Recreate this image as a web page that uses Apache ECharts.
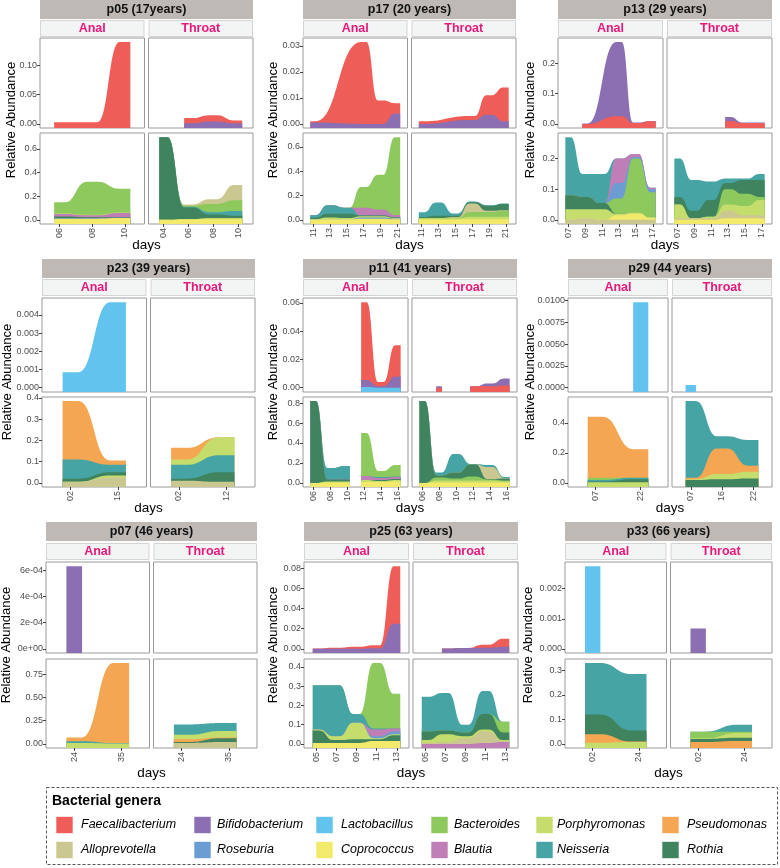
<!DOCTYPE html>
<html><head><meta charset="utf-8">
<script src="https://cdn.jsdelivr.net/npm/echarts@6/dist/echarts.min.js"></script>
<style>html,body{margin:0;padding:0;background:#fff}#c{width:780px;height:868px}</style>
</head><body><div id="c"></div>
<script>
const FONT = '"Liberation Sans", Arial, Helvetica, sans-serif';
const genera = ['Faecalibacterium','Bifidobacterium','Lactobacillus','Bacteroides','Porphyromonas','Pseudomonas','Alloprevotella','Roseburia','Coprococcus','Blautia','Neisseria','Rothia'];
const generaColors = ['#EE5D57','#8C6FB3','#62C3EE','#8DC95D','#C5DD6C','#F5A653','#CBC791','#6C9DD2','#F3EA6B','#BF7FB6','#47A4A4','#3F845F'];

// ---------- p05 ----------
const p05_anal_days = ['06','08','10'];
const p05_throat_days = ['04','06','08','10'];
const p05_top_ticks = ['0.00','0.05','0.10'];
const p05_bot_ticks = ['0.0','0.2','0.4','0.6'];
const p05_anal_top = {days:['06','08','10'], Faecalibacterium:[0.003,0.003,0.14]};
const p05_throat_top = {days:['06','08','10'], Bifidobacterium:[0.001,0.004,0.001], Faecalibacterium:[0.009,0.011,0.005]};
const p05_anal_bot = {days:['06','08','10'], Coprococcus:[0.01,0.01,0.015], Roseburia:[0.004,0.003,0.003], Rothia:[0.015,0.01,0.005], Blautia:[0.02,0.015,0.035], Porphyromonas:[0.005,0.005,0.005], Bacteroides:[0.095,0.28,0.2]};
const p05_throat_bot = {days:['04','06','08','10'], Coprococcus:[0,0.005,0.005,0.005], Porphyromonas:[0,0,0.01,0.01], Rothia:[0.70,0.10,0.03,0.02], Neisseria:[0,0.005,0.02,0.04], Bacteroides:[0,0.01,0.07,0.09], Alloprevotella:[0,0.01,0.04,0.13]};

// ---------- p17 ----------
const p17_anal_days = ['11','13','15','17','19','21'];
const p17_throat_days = ['11','13','15','17','19','21'];
const p17_top_ticks = ['0.00','0.01','0.02','0.03'];
const p17_bot_ticks = ['0.0','0.2','0.4','0.6'];
const p17_anal_top = {days:['11','17','19','21'], Bifidobacterium:[0.0005,0,0,0.004], Faecalibacterium:[0.0005,0.0315,0.009,0.004]};
const p17_throat_top = {days:['11','17','19','21'], Bifidobacterium:[0,0.0015,0.0035,0.001], Faecalibacterium:[0.001,0.0015,0.0075,0.013]};
const p17_anal_bot = {days:['11','13','15','17','19','21'], Coprococcus:[0.003,0.005,0.005,0.01,0.01,0.005], Roseburia:[0,0,0,0.01,0.01,0.005], Porphyromonas:[0.005,0.015,0.01,0.01,0.01,0.005], Rothia:[0.01,0.03,0.035,0.005,0.005,0.005], Neisseria:[0.02,0.07,0.05,0,0,0], Blautia:[0,0,0,0.065,0.05,0.02], Bacteroides:[0,0,0,0.17,0.285,0.64]};
const p17_throat_bot = {days:['11','13','15','17','19','21'], Coprococcus:[0.003,0.003,0.003,0.005,0.005,0.005], Porphyromonas:[0.01,0.01,0.01,0.02,0.02,0.02], Bacteroides:[0,0,0.005,0.04,0.04,0.05], Alloprevotella:[0,0,0.005,0.07,0.01,0.005], Rothia:[0.01,0.02,0.01,0.01,0.04,0.05], Neisseria:[0.04,0.11,0.02,0.005,0.005,0.005]};

// ---------- p13 ----------
const p13_anal_days = ['07','09','11','13','15','17'];
const p13_throat_days = ['07','09','11','13','15','17'];
const p13_top_ticks = ['0.0','0.1','0.2'];
const p13_bot_ticks = ['0.0','0.1','0.2'];
const p13_anal_top = {days:['09','13','15','17'], Faecalibacterium:[0,0.025,0.003,0.009], Bifidobacterium:[0.001,0.245,0.002,0.001]};
const p13_throat_top = {days:['13','15','17'], Faecalibacterium:[0.01,0.003,0.003], Bifidobacterium:[0.013,0.002,0.002]};
const p13_anal_bot = {days:['07','09','11','13','15','17'], Alloprevotella:[0,0.005,0,0,0,0], Coprococcus:[0,0,0,0.015,0.02,0.005], Porphyromonas:[0.035,0.03,0.035,0.005,0.005,0.005], Rothia:[0.045,0.04,0.02,0,0,0], Bacteroides:[0,0,0,0.05,0.175,0.08], Roseburia:[0,0,0,0.05,0.005,0.01], Blautia:[0,0,0,0.08,0.01,0.005], Neisseria:[0.19,0.075,0.095,0,0,0]};
const p13_throat_bot = {days:['07','09','11','13','15','17'], Coprococcus:[0,0,0,0.005,0.005,0.005], Alloprevotella:[0.005,0.005,0.005,0.025,0.01,0.01], Porphyromonas:[0.045,0,0.005,0.02,0.03,0.05], Bacteroides:[0,0,0,0.05,0.04,0.01], Rothia:[0.025,0.025,0.055,0.02,0.045,0.055], Neisseria:[0.125,0.1,0.06,0.015,0.005,0.02]};

// ---------- p23 ----------
const p23_anal_days = ['02','15'];
const p23_throat_days = ['02','12'];
const p23_top_ticks = ['0.000','0.001','0.002','0.003','0.004'];
const p23_bot_ticks = ['0.0','0.1','0.2','0.3','0.4'];
const p23_anal_top = {days:['02','15'], Lactobacillus:[0.00085,0.0047]};
const p23_throat_top = {days:[]};
const p23_anal_bot = {days:['02','15'], Alloprevotella:[0.005,0.025], Porphyromonas:[0,0.01], Rothia:[0.015,0.015], Neisseria:[0.09,0.035], Pseudomonas:[0.275,0.02]};
const p23_throat_bot = {days:['02','12'], Alloprevotella:[0.01,0.005], Rothia:[0.01,0.045], Neisseria:[0.065,0.08], Porphyromonas:[0.025,0.085], Pseudomonas:[0.055,0]};

// ---------- p11 ----------
const p11_anal_days = ['06','08','10','12','14','16'];
const p11_throat_days = ['06','08','10','12','14','16'];
const p11_top_ticks = ['0.00','0.02','0.04','0.06'];
const p11_bot_ticks = ['0.0','0.2','0.4','0.6','0.8'];
const p11_anal_top = {days:['12','14','16'], Lactobacillus:[0.0005,0,0], Bifidobacterium:[0.005,0.001,0.008], Faecalibacterium:[0.055,0.003,0.022]};
const p11_throat_top = {days:['08',null,'12','14','16'], Faecalibacterium:[0,null,0.001,0.001,0.0015], Bifidobacterium:[0.001,null,0,0.002,0.005]};
const p11_anal_bot = {days:['06','08','10',null,'12','14','16'], Coprococcus:[0,0.005,0.005,null,0.01,0.01,0.015], Porphyromonas:[0,0.01,0.01,null,0.02,0.01,0.015], Rothia:[0.82,0.02,0.02,null,0,0.01,0.01], Blautia:[0,0,0,null,0.04,0.02,0.02], Neisseria:[0,0.115,0.135,null,0,0.01,0.005], Bacteroides:[0,0,0,null,0.43,0.06,0.115]};
const p11_throat_bot = {days:['06','08','10','12','14','16'], Coprococcus:[0,0.005,0.005,0.005,0.005,0.005], Porphyromonas:[0,0.02,0.02,0.02,0.02,0.01], Bacteroides:[0,0.03,0.02,0.04,0.01,0.01], Rothia:[0.82,0.02,0.06,0.12,0.005,0.02], Alloprevotella:[0,0,0,0,0.12,0.005], Neisseria:[0,0.03,0.185,0.005,0.02,0.01]};

// ---------- p29 ----------
const p29_anal_days = ['07','22'];
const p29_throat_days = ['07','16','22'];
const p29_top_ticks = ['0.0000','0.0025','0.0050','0.0075','0.0100'];
const p29_bot_ticks = ['0.0','0.2','0.4'];
const p29_anal_top = {days:['22'], Lactobacillus:[0.0098]};
const p29_throat_top = {days:['07'], Lactobacillus:[0.0003]};
const p29_anal_bot = {days:['07','22'], Porphyromonas:[0.005,0.005], Rothia:[0.005,0.02], Neisseria:[0.01,0.01], Bacteroides:[0.015,0], Pseudomonas:[0.405,0.19]};
const p29_throat_bot = {days:['07','16','22'], Rothia:[0.02,0.025,0.03], Porphyromonas:[0.005,0.035,0.045], Pseudomonas:[0.01,0.17,0.04], Neisseria:[0.51,0.08,0.17]};

// ---------- p07 ----------
const p07_anal_days = ['24','35'];
const p07_throat_days = ['24','35'];
const p07_top_ticks = ['0e+00','2e-04','4e-04','6e-04'];
const p07_bot_ticks = ['0.00','0.25','0.50','0.75'];
const p07_anal_top = {days:['24'], Bifidobacterium:[0.00063]};
const p07_throat_top = {days:[]};
const p07_anal_bot = {days:['24','35'], Porphyromonas:[0.01,0.005], Neisseria:[0.02,0.005], Pseudomonas:[0.04,0.86]};
const p07_throat_bot = {days:['24','35'], Alloprevotella:[0.01,0.02], Rothia:[0.01,0.04], Pseudomonas:[0.03,0.01], Porphyromonas:[0.05,0.07], Neisseria:[0.11,0.085]};

// ---------- p25 ----------
const p25_anal_days = ['05','07','09','11','13'];
const p25_throat_days = ['05','07','09','11','13'];
const p25_top_ticks = ['0.00','0.02','0.04','0.06','0.08'];
const p25_bot_ticks = ['0.0','0.1','0.2','0.3','0.4'];
const p25_anal_top = {days:['05','07','09','11','13'], Bifidobacterium:[0,0,0,0.0005,0.025], Faecalibacterium:[0.0003,0.001,0.002,0.003,0.057]};
const p25_throat_top = {days:['07','09','11','13'], Bifidobacterium:[0.0003,0.0008,0.001,0.002], Faecalibacterium:[0,0,0.003,0.008]};
const p25_anal_bot = {days:['05','07','09','11','13'], Coprococcus:[0.005,0.005,0.005,0.015,0.015], Rothia:[0.065,0.015,0.02,0.01,0.03], Porphyromonas:[0.005,0.02,0.085,0.005,0.005], Roseburia:[0,0,0,0.01,0.015], Blautia:[0,0,0,0.035,0.015], Neisseria:[0.23,0.265,0.045,0.005,0], Bacteroides:[0,0,0,0.34,0.18]};
const p25_throat_bot = {days:['05','07','09','11','13'], Blautia:[0,0,0,0.005,0.01], Alloprevotella:[0.005,0.01,0.03,0.06,0.005], Porphyromonas:[0.015,0.04,0.01,0.01,0.005], Rothia:[0.045,0.02,0.02,0.08,0.04], Bacteroides:[0,0,0,0,0.055], Neisseria:[0.18,0.195,0.04,0.12,0]};

// ---------- p33 ----------
const p33_anal_days = ['02','24'];
const p33_throat_days = ['02','24'];
const p33_top_ticks = ['0.000','0.001','0.002'];
const p33_bot_ticks = ['0.0','0.1','0.2','0.3'];
const p33_anal_top = {days:['02'], Lactobacillus:[0.00275]};
const p33_throat_top = {days:['02'], Bifidobacterium:[0.00068]};
const p33_anal_bot = {days:['02','24'], Porphyromonas:[0.005,0.008], Pseudomonas:[0.035,0.002], Rothia:[0.08,0.045], Neisseria:[0.21,0.23]};
const p33_throat_bot = {days:['02','24'], Pseudomonas:[0.008,0.012], Rothia:[0.012,0.013], Porphyromonas:[0.003,0.02], Bacteroides:[0.027,0.005], Neisseria:[0,0.028]};

// ---------- layout (positions only) ----------
const rows = [
  {title:0, strip:20, top:[38,128], bot:[133,224], days:245, ylabY:120},
  {title:259, strip:279, top:[298,392], bot:[397,487], days:508, ylabY:382},
  {title:522, strip:543, top:[562,653], bot:[659,748], days:773, ylabY:645}
];
const panels = [
  {title:'p05 (17years)', cats:[p05_anal_days,p05_throat_days], subs:[p05_anal_top,p05_throat_top,p05_anal_bot,p05_throat_bot], ticks:[p05_top_ticks,p05_bot_ticks], L:40, R:253, row:0, ylx:11},
  {title:'p17 (20 years)', cats:[p17_anal_days,p17_throat_days], subs:[p17_anal_top,p17_throat_top,p17_anal_bot,p17_throat_bot], ticks:[p17_top_ticks,p17_bot_ticks], L:303, R:516, row:0, ylx:273},
  {title:'p13 (29 years)', cats:[p13_anal_days,p13_throat_days], subs:[p13_anal_top,p13_throat_top,p13_anal_bot,p13_throat_bot], ticks:[p13_top_ticks,p13_bot_ticks], L:558, R:772, row:0, ylx:530},
  {title:'p23 (39 years)', cats:[p23_anal_days,p23_throat_days], subs:[p23_anal_top,p23_throat_top,p23_anal_bot,p23_throat_bot], ticks:[p23_top_ticks,p23_bot_ticks], L:42, R:255, row:1, ylx:7},
  {title:'p11 (41 years)', cats:[p11_anal_days,p11_throat_days], subs:[p11_anal_top,p11_throat_top,p11_anal_bot,p11_throat_bot], ticks:[p11_top_ticks,p11_bot_ticks], L:303, R:517, row:1, ylx:273},
  {title:'p29 (44 years)', cats:[p29_anal_days,p29_throat_days], subs:[p29_anal_top,p29_throat_top,p29_anal_bot,p29_throat_bot], ticks:[p29_top_ticks,p29_bot_ticks], L:568, R:772, row:1, ylx:530},
  {title:'p07 (46 years)', cats:[p07_anal_days,p07_throat_days], subs:[p07_anal_top,p07_throat_top,p07_anal_bot,p07_throat_bot], ticks:[p07_top_ticks,p07_bot_ticks], L:46, R:257, row:2, ylx:6},
  {title:'p25 (63 years)', cats:[p25_anal_days,p25_throat_days], subs:[p25_anal_top,p25_throat_top,p25_anal_bot,p25_throat_bot], ticks:[p25_top_ticks,p25_bot_ticks], L:304, R:518, row:2, ylx:273},
  {title:'p33 (66 years)', cats:[p33_anal_days,p33_throat_days], subs:[p33_anal_top,p33_throat_top,p33_anal_bot,p33_throat_bot], ticks:[p33_top_ticks,p33_bot_ticks], L:565, R:772, row:2, ylx:528}
];

const HW = 1/6;
const colorOf = g => generaColors[genera.indexOf(g)];
function subTotal(sub){
  const keys = Object.keys(sub).filter(k=>k!=='days');
  let m = 0;
  sub.days.forEach((d,i)=>{ if(d===null) return; let s=0; keys.forEach(k=>{ s += sub[k][i]||0; }); m=Math.max(m,s); });
  return m;
}

const grids=[], xAxes=[], yAxes=[], series=[], graphics=[];
const axisLblStyle = {fontSize:9, color:'#4d4d4d', fontFamily:FONT};

panels.forEach(p=>{
  const r = rows[p.row];
  const w = (p.R - p.L - 4)/2;
  const Mtop = Math.max(subTotal(p.subs[0]), subTotal(p.subs[1]));
  const Mbot = Math.max(subTotal(p.subs[2]), subTotal(p.subs[3]));
  for(let j=0;j<4;j++){
    const site = j%2, isBot = j>=2;
    const left = p.L + site*(w+4);
    const yr = isBot ? r.bot : r.top;
    const gi = grids.length;
    grids.push({left:left, top:yr[0], width:w, height:yr[1]-yr[0], show:true, borderColor:'#9a9a9a', borderWidth:1, backgroundColor:'#fff', containLabel:false});
    const cats = p.cats[site];
    const xIdx = cats.map((c,i)=>i);
    xAxes.push({type:'value', gridIndex:gi, min:-0.6, max:cats.length-1+0.6, position:'bottom',
      axisLine:{show:false, onZero:false}, splitLine:{show:false},
      axisTick:{show:isBot, customValues:xIdx, length:3, lineStyle:{color:'#444'}},
      axisLabel:Object.assign({show:isBot, customValues:xIdx, rotate:90, margin:4, formatter:v=>cats[Math.round(v)]||''}, axisLblStyle)});
    const M = isBot ? Mbot : Mtop;
    const tl = p.ticks[isBot?1:0];
    const tv = tl.map(s=>parseFloat(s));
    yAxes.push({type:'value', gridIndex:gi, min:-0.05*M, max:1.05*M, position:'left',
      axisLine:{show:false, onZero:false}, splitLine:{show:false},
      axisTick:{show:site===0, customValues:tv, length:3, lineStyle:{color:'#444'}},
      axisLabel:Object.assign({show:site===0, customValues:tv, margin:3, formatter:v=>{let b=0,bd=Infinity; tv.forEach((t,k)=>{const d=Math.abs(t-v); if(d<bd){bd=d;b=k;}}); return tl[b];}}, axisLblStyle)});
    // cumulative stacking (bottom -> top), drawn top-first so lower bands sit in front
    const sub = p.subs[j];
    const keys = Object.keys(sub).filter(k=>k!=='days');
    const cum = sub.days.map(()=>0);
    const layers = [];
    keys.forEach(g=>{
      const vals = sub[g]; const pts=[]; let lastX=0;
      sub.days.forEach((d,i)=>{
        if(d===null){ pts.push([lastX+0.5, null]); return; }
        cum[i] += vals[i];
        const x = cats.indexOf(d); lastX = x;
        pts.push([x-HW, cum[i]], [x+HW, cum[i]]);
      });
      layers.push({g, pts});
    });
    layers.reverse().forEach(l=>{
      series.push({type:'line', name:l.g, xAxisIndex:gi, yAxisIndex:gi,
        data:l.pts, smooth:0.5, smoothMonotone:'x', showSymbol:false, symbol:'none',
        lineStyle:{width:0, opacity:0}, areaStyle:{color:colorOf(l.g), opacity:1, origin:'start'}, silent:true, connectNulls:false});
    });
  }
  // strips
  graphics.push({type:'rect', shape:{x:p.L, y:r.title, width:p.R-p.L, height:19}, style:{fill:'#BEB9B4'}});
  graphics.push({type:'text', x:(p.L+p.R)/2, y:r.title+10, style:{text:p.title, fill:'#111', font:'bold 12.5px '+FONT, align:'center', verticalAlign:'middle'}});
  ['Anal','Throat'].forEach((s,k)=>{
    const lx = p.L + k*(w+4);
    graphics.push({type:'rect', shape:{x:lx+0.5, y:r.strip+0.5, width:w-1, height:16}, style:{fill:'#F3F4F4', stroke:'#D4D4D4', lineWidth:1}});
    graphics.push({type:'text', x:lx+w/2, y:r.strip+8.5, style:{text:s, fill:'#E8197B', font:'bold 12.5px '+FONT, align:'center', verticalAlign:'middle'}});
  });
  graphics.push({type:'text', x:p.ylx, y:r.ylabY, rotation:Math.PI/2, style:{text:'Relative Abundance', fill:'#000', font:'13px '+FONT, align:'center', verticalAlign:'middle'}});
  graphics.push({type:'text', x:(p.L+p.R)/2, y:r.days, style:{text:'days', fill:'#000', font:'13.5px '+FONT, align:'center', verticalAlign:'middle'}});
});

// legend
graphics.push({type:'rect', shape:{x:46.5, y:787.5, width:731, height:77}, style:{fill:'none', stroke:'#555', lineWidth:1, lineDash:[3,2]}});
graphics.push({type:'text', x:52, y:801, style:{text:'Bacterial genera', fill:'#000', font:'bold 14px '+FONT, align:'left', verticalAlign:'middle'}});
const legSqX = [56,194,316,431,536,662];
const legTxX = [81,217,341,454,557,687];
const legRowY = [825,850];
genera.forEach((g,i)=>{
  const c = i%6, rr = Math.floor(i/6);
  graphics.push({type:'rect', shape:{x:legSqX[c], y:legRowY[rr]-8.5, width:17, height:17}, style:{fill:generaColors[i], stroke:'rgba(255,255,255,0.6)', lineWidth:1}});
  graphics.push({type:'text', x:legTxX[c], y:legRowY[rr], style:{text:g, fill:'#000', font:'italic 12.5px '+FONT, align:'left', verticalAlign:'middle'}});
});

const chart = echarts.init(document.getElementById('c'), null, {renderer:'canvas'});
chart.setOption({animation:false, grid:grids, xAxis:xAxes, yAxis:yAxes, series:series, graphic:{elements:graphics}});
</script></body></html>
